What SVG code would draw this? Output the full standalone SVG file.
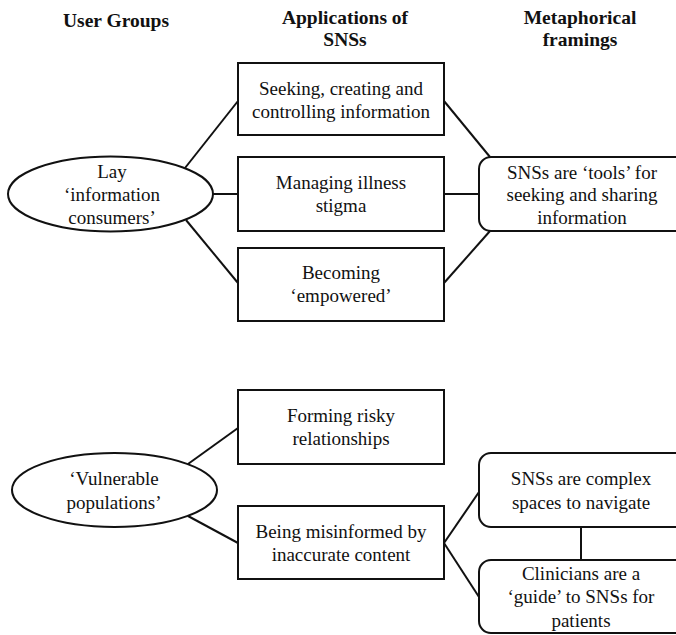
<svg xmlns="http://www.w3.org/2000/svg" width="676" height="635" viewBox="0 0 676 635">
<style>
.bg{fill:#fff}
.n{fill:#fff;stroke:#111;stroke-width:2}
.c{stroke:#111;stroke-width:2;fill:none}
text{font-family:"Liberation Serif","Times New Roman",serif;font-size:19px;fill:#111;text-anchor:middle}
.h{font-weight:bold;font-size:19.5px}
</style>
<rect class="bg" x="0" y="0" width="676" height="635"/>
<g id="headers">
<text class="h" x="116" y="27">User Groups</text>
<text class="h" x="345" y="24">Applications of</text>
<text class="h" x="345" y="46">SNSs</text>
<text class="h" x="580" y="24">Metaphorical</text>
<text class="h" x="580" y="46">framings</text>
</g>
<g id="connectors">
<line class="c" x1="185" y1="168" x2="238" y2="101"/>
<line class="c" x1="213" y1="194" x2="238" y2="194"/>
<line class="c" x1="186" y1="220" x2="238" y2="283"/>
<line class="c" x1="444" y1="101" x2="490" y2="157"/>
<line class="c" x1="444" y1="194" x2="479" y2="194"/>
<line class="c" x1="490" y1="231" x2="444" y2="283"/>
<line class="c" x1="188" y1="464" x2="238" y2="428"/>
<line class="c" x1="188" y1="516" x2="238" y2="543"/>
<line class="c" x1="444" y1="543" x2="479" y2="492"/>
<line class="c" x1="444" y1="543" x2="479" y2="597"/>
<line class="c" x1="581" y1="527" x2="581" y2="560"/>
</g>
<g id="lay">
<ellipse class="n" cx="110.5" cy="194" rx="102.5" ry="37.5"/>
<text x="112" y="178">Lay</text>
<text x="112" y="201">‘information</text>
<text x="112" y="224">consumers’</text>
</g>
<g id="seeking">
<rect class="n" x="238" y="63" width="206" height="72"/>
<text x="341" y="95">Seeking, creating and</text>
<text x="341" y="118">controlling information</text>
</g>
<g id="stigma">
<rect class="n" x="238" y="157" width="206" height="74"/>
<text x="341" y="188.5">Managing  illness</text>
<text x="341" y="211.5">stigma</text>
</g>
<g id="empowered">
<rect class="n" x="238" y="248" width="206" height="73"/>
<text x="341" y="279">Becoming</text>
<text x="341" y="302">‘empowered’</text>
</g>
<g id="tools">
<rect class="n" x="479" y="157" width="220" height="74" rx="12" ry="12"/>
<text x="582" y="179">SNSs are ‘tools’ for</text>
<text x="582" y="201">seeking and sharing</text>
<text x="582" y="224">information</text>
</g>
<g id="vulnerable">
<ellipse class="n" cx="114.5" cy="490" rx="102.5" ry="37"/>
<text x="114" y="485">‘Vulnerable</text>
<text x="114" y="509">populations’</text>
</g>
<g id="risky">
<rect class="n" x="238" y="390" width="206" height="74"/>
<text x="341" y="421.5">Forming risky</text>
<text x="341" y="444.5">relationships</text>
</g>
<g id="misinformed">
<rect class="n" x="238" y="506" width="206" height="73"/>
<text x="341" y="538">Being misinformed by</text>
<text x="341" y="561">inaccurate content</text>
</g>
<g id="complex">
<rect class="n" x="479" y="453" width="220" height="74" rx="12" ry="12"/>
<text x="581" y="485">SNSs are complex</text>
<text x="581" y="509">spaces to navigate</text>
</g>
<g id="guide">
<rect class="n" x="479" y="560" width="220" height="73" rx="12" ry="12"/>
<text x="581" y="580">Clinicians are a</text>
<text x="581" y="603">‘guide’ to SNSs for</text>
<text x="581" y="627">patients</text>
</g>
</svg>
